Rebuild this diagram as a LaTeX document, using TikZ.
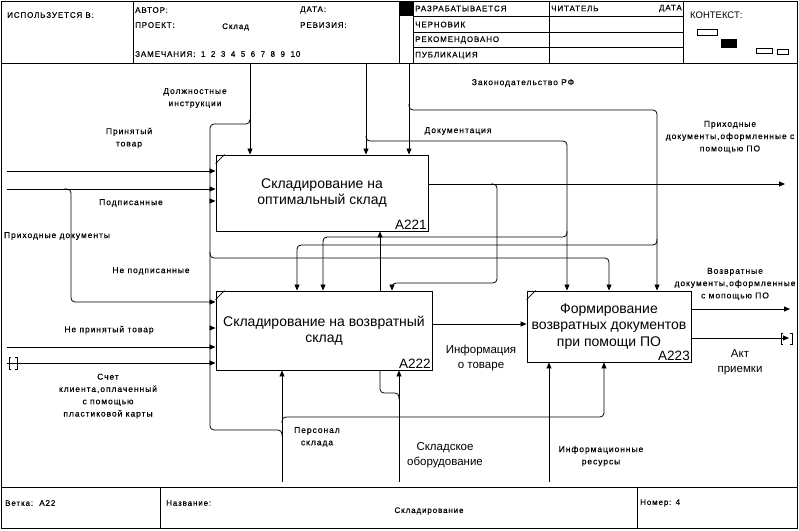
\documentclass[tikz,border=0pt]{standalone}
\usepackage{fontspec}
\setmainfont{Liberation Sans}
\newfontfamily\spaced[LetterSpace=11, FakeBold=0.4]{Liberation Sans}
\usetikzlibrary{arrows.meta}

\tikzset{
  frm/.style={line width=0.9pt},
  flow/.style={line width=0.8pt, rounded corners=4pt},
  arr/.style={flow, -{Triangle[length=6pt,width=5pt]}},
  tun/.style={line width=0.8pt},
  act/.style={draw, line width=0.9pt, fill=white, inner sep=0pt, align=center, font=\fontsize{14}{16.5}\selectfont},
  anum/.style={anchor=south east, inner sep=1.5pt, font=\fontsize{13.5}{16}\selectfont},
  lbl/.style={inner sep=0pt, align=center, font=\spaced\fontsize{8.5}{12.3}\selectfont},
  big/.style={inner sep=0pt, align=center, font=\fontsize{11.5}{15}\selectfont},
  hdr/.style={inner sep=0pt, anchor=west, font=\spaced\fontsize{8}{10}\selectfont},
}
\newcommand{\gap}{\hspace{5.5pt}}

\begin{document}
\begin{tikzpicture}[x=1pt, y=-1pt]
\useasboundingbox (0,0) rectangle (799,530);

% form
\draw[frm] (1,1) rectangle (797,528);
\draw[frm] (1,63) -- (797,63);
\draw[frm] (1,487) -- (797,487);
\draw[frm] (133,1) -- (133,63);
\draw[frm] (399,1) -- (399,63);
\draw[frm] (413,1) -- (413,63);
\draw[frm] (549,1) -- (549,63);
\draw[frm] (683,1) -- (683,63);
\draw[frm] (413,16) -- (683,16) (413,32) -- (683,32) (413,47) -- (683,47);
\fill (400,1) rectangle (413,16);
\draw[frm] (160,487) -- (160,528);
\draw[frm] (637,487) -- (637,528);

% context
\draw[tun] (697,29) rectangle (717,35);
\fill (721,39) rectangle (737,48);
\draw[tun] (756,48) rectangle (772,53);
\draw[tun] (777,49) rectangle (788,54);

% header texts
\node[hdr] (used) at (7,15) {ИСПОЛЬЗУЕТСЯ В:};
\node[hdr] (author) at (135,10) {АВТОР:};
\node[hdr] (date) at (300,10) {ДАТА:};
\node[hdr] (proj) at (135,25) {ПРОЕКТ:};
\node[hdr] (projname) at (222,27) {Склад};
\node[hdr] (rev) at (300,25) {РЕВИЗИЯ:};
\node[hdr] (notes) at (135,54) {ЗАМЕЧАНИЯ:\gap 1\gap 2\gap 3\gap 4\gap 5\gap 6\gap 7\gap 8\gap 9\gap 10};
\node[hdr] (st1) at (415,8.5) {РАЗРАБАТЫВАЕТСЯ};
\node[hdr] (st2) at (415,24.5) {ЧЕРНОВИК};
\node[hdr] (st3) at (415,40) {РЕКОМЕНДОВАНО};
\node[hdr] (st4) at (415,55.5) {ПУБЛИКАЦИЯ};
\node[hdr] (reader) at (551,8.5) {ЧИТАТЕЛЬ};
\node[hdr, anchor=east] (rdate) at (682,8.5) {ДАТА};
\node[inner sep=0pt, anchor=west, font=\fontsize{9.5}{11}\selectfont] (ctx) at (690,15) {КОНТЕКСТ:};

% footer texts
\node[hdr] (node) at (5,503) {Ветка:\ \ А22};
\node[hdr] (title) at (166,503) {Название:};
\node[hdr, anchor=center] (titlename) at (429,511) {Складирование};
\node[hdr] (number) at (640,503) {Номер: 4};

% activities
\node[act, minimum width=212pt, minimum height=76pt] (a221) at (322,193) {Складирование на\\оптимальный склад};
\node[act, minimum width=216pt, minimum height=79pt] (a222) at (324,330.5) {Складирование на возвратный\\склад};
\node[act, minimum width=164pt, minimum height=71pt] (a223) at (609,326.5) {Формирование\\возвратных документов\\при помощи ПО};
\node[anum] (n221) at (a221.south east) {A221};
\node[anum] (n222) at (a222.south east) {A222};
\node[anum] (n223) at (a223.south east) {A223};
\foreach \a in {a221,a222,a223}
  \draw[tun] ([yshift=-9pt]\a.north west) -- ([xshift=9pt]\a.north west);

% inputs
\coordinate (in1) at (7,171);
\draw[arr] (in1) -- (in1 -| a221.west);
\coordinate (in2) at (7,189);
\draw[arr] (in2) -- (in2 -| a221.west);
\coordinate (np) at (71,302);
\draw[arr] (64,189) -- (np |- in2) -- (np) -- (np -| a222.west);
\coordinate (in4) at (7,347);
\draw[arr] (in4) -- (in4 -| a222.west);
\coordinate (in5) at (7,363);
\draw[arr] (in5) -- (in5 -| a222.west);
\draw[tun] (11,357) -- (9,357) -- (9,369) -- (11,369);
\draw[tun] (15,357) -- (17,357) -- (17,369) -- (15,369);

% controls
\coordinate (c1) at (250,64);
\draw[arr] (c1) -- (c1 |- a221.north);
\coordinate (jp) at (250,124);
\coordinate (bus) at (210,124);
\draw[flow] ([yshift=5pt]jp) -- (jp) -- (bus) -- (210,430) -- (282,430) -- (282,436);
\coordinate (b1) at (210,201);
\draw[arr] (b1) -- (b1 -| a221.west);
\coordinate (b2) at (210,328);
\draw[arr] (b2) -- (b2 -| a222.west);
\coordinate (b3) at (609,258);
\draw[arr] (210,252) -- (210,258) -- (b3) -- (b3 |- a223.north);

\coordinate (c2) at (366,64);
\draw[arr] (c2) -- (c2 |- a221.north);
\coordinate (d1) at (567,141);
\draw[arr] (366,136) -- (366,141) -- (d1) -- (d1 |- a223.north);
\coordinate (d2) at (323,237);
\draw[arr] (567,231) -- (567,237) -- (d2) -- (d2 |- a222.north);

\coordinate (c3) at (409,64);
\draw[arr] (c3) -- (c3 |- a221.north);
\coordinate (z1) at (657,110);
\draw[arr] (409,104) -- (409,110) -- (z1) -- (z1 |- a223.north);
\coordinate (z2) at (297,245);
\draw[arr] (657,239) -- (657,245) -- (z2) -- (z2 |- a222.north);

% outputs
\coordinate (o1) at (785,184);
\draw[arr] (o1 -| a221.east) -- (o1);
\coordinate (f1) at (392,283);
\draw[arr] (491,184) -- (497,184) -- (497,283) -- (f1) -- (f1 |- a222.north);
\coordinate (o2) at (527,324);
\draw[arr] (o2 -| a222.east) -- (o2 -| a223.west);
\coordinate (o3) at (790,309);
\draw[arr] (o3 -| a223.east) -- (o3);
\coordinate (o4) at (789,338);
\draw[arr] (o4 -| a223.east) -- (o4);
\draw[tun] (783,333) -- (781,333) -- (781,344) -- (783,344);
\draw[tun] (790,333) -- (792,333) -- (792,344) -- (790,344);

% mechanisms
\coordinate (m1) at (282,482);
\draw[arr] (m1) -- (m1 |- a222.south);
\coordinate (p1) at (604,417);
\draw[arr] (282,423) -- (282,417) -- (p1) -- (p1 |- a223.south);
\coordinate (m2) at (399,482);
\draw[arr] (m2) -- (m2 |- a222.south);
\coordinate (eq) at (380,393);
\draw[flow] (399,399) -- (399,393) -- (eq) -- (eq |- a222.south);
\draw[arr] (eq |- a222.north) -- (eq |- a221.south);
\coordinate (m3) at (549,482);
\draw[arr] (m3) -- (m3 |- a223.south);

% labels
\node[lbl] (l1) at (195,98) {Должностные\\инструкции};
\node[lbl] (l2) at (129,138) {Принятый\\товар};
\node[lbl] (l3) at (131,203) {Подписанные};
\node[lbl] (l4) at (57,236) {Приходные документы};
\node[lbl] (l5) at (151,271) {Не подписанные};
\node[lbl] (l6) at (109,330) {Не принятый товар};
\node[lbl] (l7) at (108,396) {Счет\\клиента,оплаченный\\с помощью\\пластиковой карты};
\node[lbl] (l8) at (523,83) {Законодательство РФ};
\node[lbl] (l9) at (458,131) {Документация};
\node[lbl] (l10) at (730,137) {Приходные\\документы,оформленные с\\помощью ПО};
\node[lbl] (l11) at (735,284) {Возвратные\\документы,оформленные\\с мопощью ПО};
\node[lbl] (l12) at (317,437) {Персонал\\склада};
\node[lbl] (l13) at (601,456) {Информационные\\ресурсы};
\node[big] (l14) at (481,358) {Информация\\о товаре};
\node[big] (l15) at (445,455) {Складское\\оборудование};
\node[big] (l16) at (740,362) {Акт\\приемки};

\end{tikzpicture}
\end{document}
